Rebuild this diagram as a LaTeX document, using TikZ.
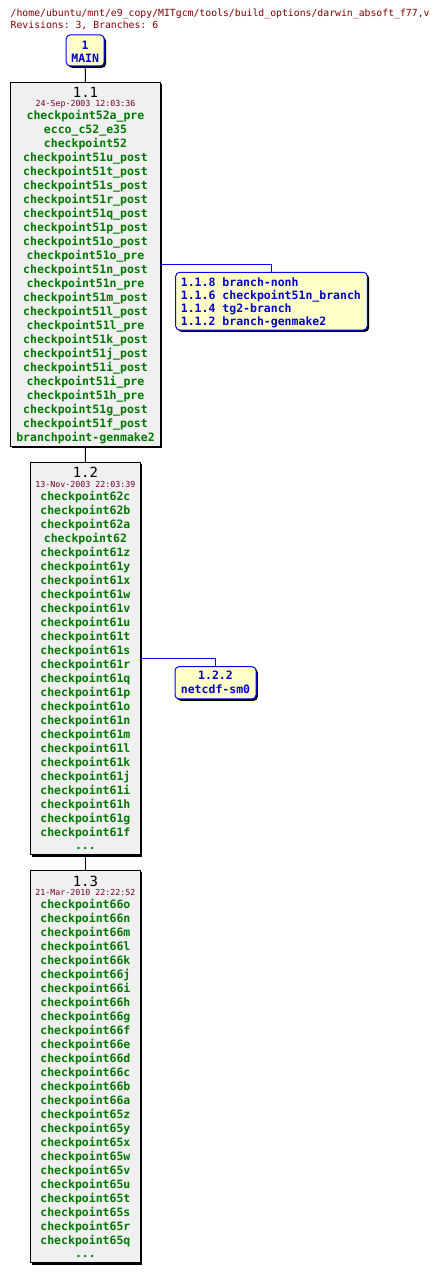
\documentclass[tikz,border=0pt]{standalone}
\usepackage{fontspec}
\setmonofont{DejaVu Sans Mono}
\usepackage{tikz}
\usetikzlibrary{shadows}
\definecolor{hdrred}{RGB}{128,0,0}
\definecolor{datered}{RGB}{112,0,48}
\definecolor{taggreen}{RGB}{0,120,0}
\definecolor{brblue}{RGB}{0,0,200}
\definecolor{brfill}{RGB}{255,255,200}
\definecolor{revfill}{RGB}{240,240,240}

\begin{document}
\begin{tikzpicture}[x=1pt,y=-1pt]

\tikzstyle{every node}=[font=\ttfamily, inner sep=0pt]
\tikzstyle{hdr}=[anchor=base west, text=hdrred, font=\ttfamily\fontsize{9.8}{10}\selectfont]
\tikzstyle{rev}=[draw=black, line width=1pt, fill=revfill, minimum width=109.5pt, minimum height=392.5pt,
  drop shadow={shadow xshift=1.8pt, shadow yshift=-1.8pt, opacity=1, fill=black}]
\tikzstyle{brbox}=[draw=blue, line width=1pt, fill=brfill, rounded corners=4pt,
  drop shadow={shadow xshift=1.8pt, shadow yshift=-1.8pt, opacity=1, fill=black}]
\tikzstyle{revno}=[anchor=base, font=\ttfamily\fontsize{14}{14}\selectfont]
\tikzstyle{revdate}=[anchor=base, text=datered, font=\ttfamily\fontsize{8.3}{8.3}\selectfont]
\tikzstyle{tag}=[anchor=base, text=taggreen, font=\ttfamily\bfseries\fontsize{11.5}{11.5}\selectfont]
\tikzstyle{brtag}=[anchor=base west, text=brblue, font=\ttfamily\bfseries\fontsize{11.5}{11.5}\selectfont]

\useasboundingbox (0,0) rectangle (446,1273);

\node[hdr] (path) at (10.5,16.7) {/home/ubuntu/mnt/e9\_copy/MITgcm/tools/build\_options/darwin\_absoft\_f77,v};
\node[hdr] (revs) at (10.5,28.7) {Revisions: 3, Branches: 6};

% 1
\node[brbox, minimum width=38pt, minimum height=31pt] (main) at (85.2,50.5) {};
\node[brtag, anchor=base] (mainno) at (85.2,49.3) {1};
\node[brtag, anchor=base] (mainname) at (85.2,62.3) {MAIN};

% 1.1
\node[rev, minimum width=150pt, minimum height=363.3pt] (r11) at (85.5,264.35) {};
\node[revno] (r11no) at (85.5,97.7) {1.1};
\node[revdate] (r11date) at (85.5,106.7) {24-Sep-2003 12:03:36};
\foreach \t [count=\i from 0] in {checkpoint52a\_pre, ecco\_c52\_e35, checkpoint52,
  checkpoint51u\_post, checkpoint51t\_post, checkpoint51s\_post, checkpoint51r\_post,
  checkpoint51q\_post, checkpoint51p\_post, checkpoint51o\_post, checkpoint51o\_pre,
  checkpoint51n\_post, checkpoint51n\_pre, checkpoint51m\_post, checkpoint51l\_post,
  checkpoint51l\_pre, checkpoint51k\_post, checkpoint51j\_post, checkpoint51i\_post,
  checkpoint51i\_pre, checkpoint51h\_pre, checkpoint51g\_post, checkpoint51f\_post,
  branchpoint-genmake2}
  \node[tag] (r11t\i) at (85.5,119.3+14*\i) {\t};

% 1.1 branches
\node[brbox, minimum width=191.6pt, minimum height=57.7pt] (b11) at (271.5,301.15) {};
\foreach \t [count=\i from 0] in {1.1.8 branch-nonh, 1.1.6 checkpoint51n\_branch,
  1.1.4 tg2-branch, 1.1.2 branch-genmake2}
  \node[brtag] (b11t\i) at (180.7,286.4+12.9*\i) {\t};

% 1.2
\node[rev] (r12) at (85.4,658.65) {};
\node[revno] (r12no) at (85.4,477.7) {1.2};
\node[revdate] (r12date) at (85.4,487) {13-Nov-2003 22:03:39};
\foreach \t [count=\i from 0] in {checkpoint62c, checkpoint62b, checkpoint62a, checkpoint62,
  checkpoint61z, checkpoint61y, checkpoint61x, checkpoint61w, checkpoint61v, checkpoint61u,
  checkpoint61t, checkpoint61s, checkpoint61r, checkpoint61q, checkpoint61p, checkpoint61o,
  checkpoint61n, checkpoint61m, checkpoint61l, checkpoint61k, checkpoint61j, checkpoint61i,
  checkpoint61h, checkpoint61g, checkpoint61f}
  \node[tag] (r12t\i) at (85.4,500+14*\i) {\t};
\node[tag] (r12more) at (85.4,849) {...};

% 1.2 branches
\node[brbox, minimum width=81pt, minimum height=32.3pt] (b12) at (215.5,682.8) {};
\node[brtag, anchor=base] (b12no) at (215.5,679.3) {1.2.2};
\node[brtag, anchor=base] (b12name) at (215.5,693) {netcdf-sm0};

% 1.3
\node[rev] (r13) at (85.4,1066.7) {};
\node[revno] (r13no) at (85.4,886) {1.3};
\node[revdate] (r13date) at (85.4,895) {21-Mar-2010 22:22:52};
\foreach \t [count=\i from 0] in {checkpoint66o, checkpoint66n, checkpoint66m, checkpoint66l,
  checkpoint66k, checkpoint66j, checkpoint66i, checkpoint66h, checkpoint66g, checkpoint66f,
  checkpoint66e, checkpoint66d, checkpoint66c, checkpoint66b, checkpoint66a, checkpoint65z,
  checkpoint65y, checkpoint65x, checkpoint65w, checkpoint65v, checkpoint65u, checkpoint65t,
  checkpoint65s, checkpoint65r, checkpoint65q}
  \node[tag] (r13t\i) at (85.4,908.3+14*\i) {\t};
\node[tag] (r13more) at (85.4,1257) {...};

% links
\draw[line width=1pt] (main.south) -- (r11.north);
\draw[line width=1pt] (r11.south) -- (r12.north);
\draw[line width=1pt] (r12.south) -- (r13.north);
\draw[blue, line width=1pt] (r11.east) -| (b11.north);
\draw[blue, line width=1pt] (r12.east) -| (b12.north);

\end{tikzpicture}
\end{document}
